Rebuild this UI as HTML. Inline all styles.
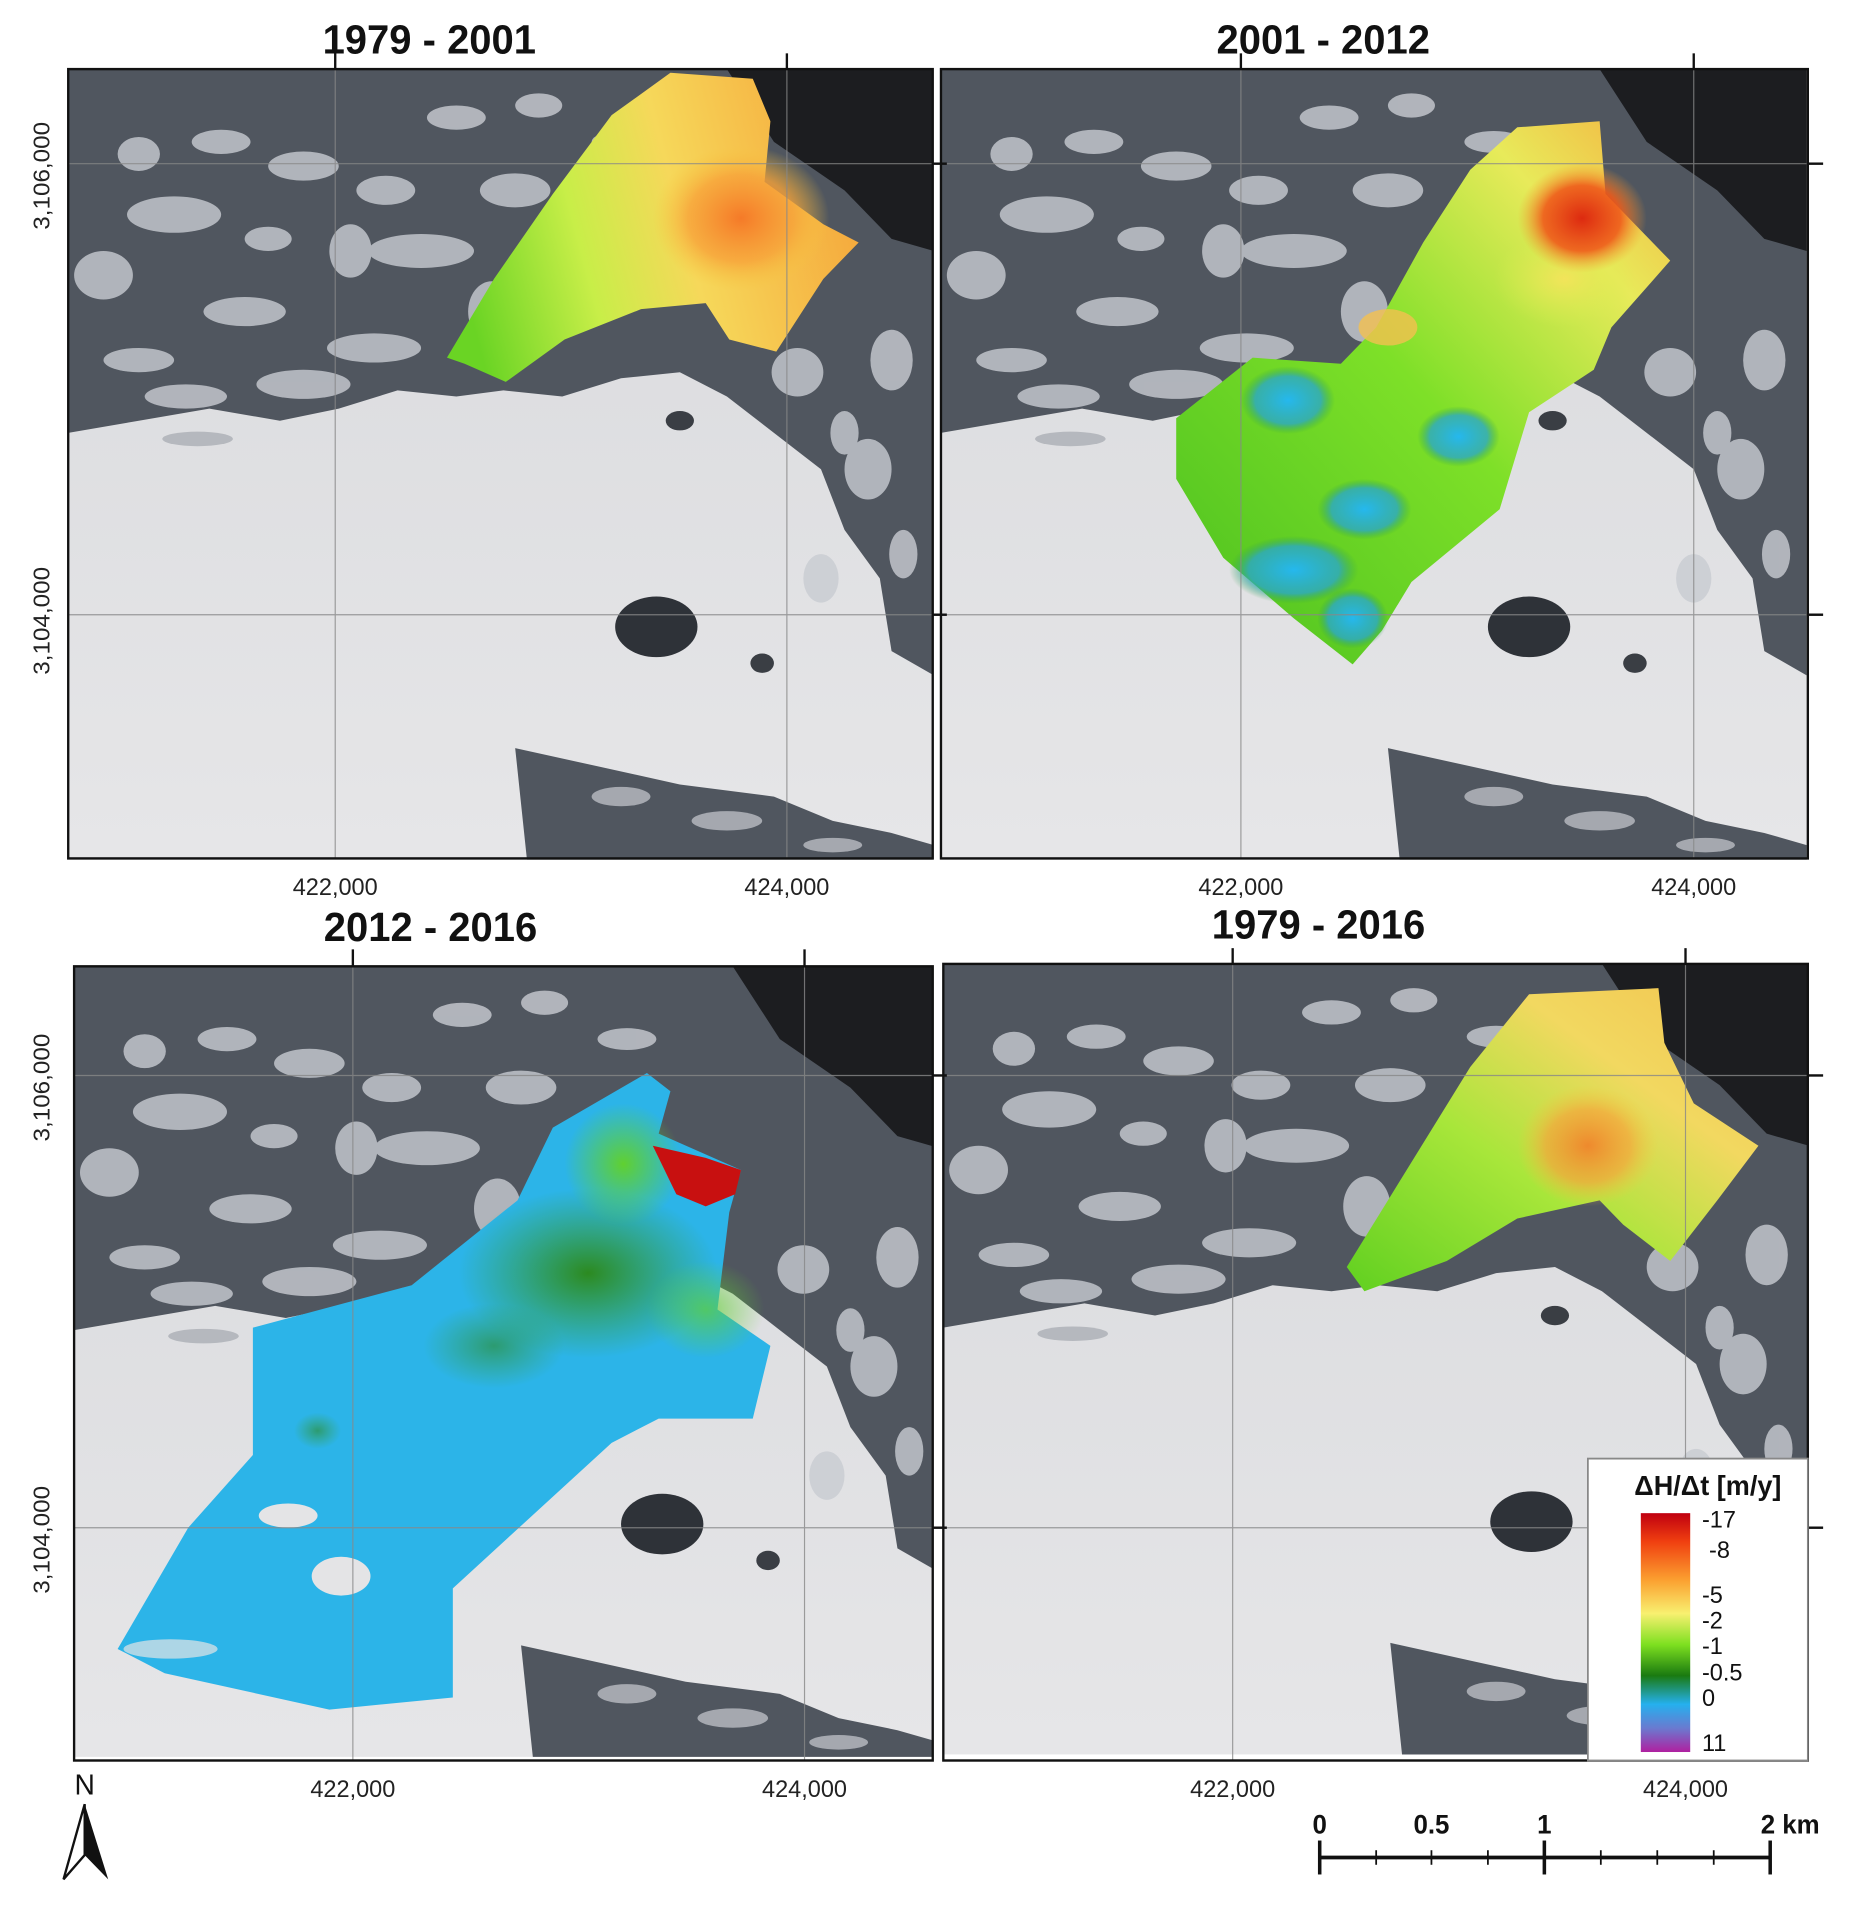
<!DOCTYPE html>
<html><head><meta charset="utf-8"><style>
html,body{margin:0;padding:0;background:#fff;}
svg{display:block;}
text{font-family:"Liberation Sans",sans-serif;}
</style></head><body>
<svg width="1849" height="1906" viewBox="0 0 1572 1572" preserveAspectRatio="none" xmlns="http://www.w3.org/2000/svg">
<defs>
<linearGradient id="snow" x1="0" y1="0" x2="0" y2="1">
<stop offset="0" stop-color="#d8d9dc"/><stop offset="1" stop-color="#e6e6e8"/>
</linearGradient>
<radialGradient id="orangeBlob"><stop offset="0" stop-color="#f57a28"/><stop offset="0.6" stop-color="#f7a33a" stop-opacity="0.8"/><stop offset="1" stop-color="#f7c840" stop-opacity="0"/></radialGradient>
<radialGradient id="redBlob"><stop offset="0" stop-color="#dd2a10"/><stop offset="0.6" stop-color="#ef5a1a" stop-opacity="0.9"/><stop offset="1" stop-color="#f5a030" stop-opacity="0"/></radialGradient>
<radialGradient id="blueBlob"><stop offset="0" stop-color="#25b8ee"/><stop offset="0.7" stop-color="#2aa7c8" stop-opacity="0.8"/><stop offset="1" stop-color="#30a040" stop-opacity="0"/></radialGradient>
<radialGradient id="yelBlob"><stop offset="0" stop-color="#f2e45a"/><stop offset="1" stop-color="#d8ee50" stop-opacity="0"/></radialGradient>
<radialGradient id="dgBlob"><stop offset="0" stop-color="#2c8a20"/><stop offset="1" stop-color="#3aa02a" stop-opacity="0"/></radialGradient>
<radialGradient id="lgBlob"><stop offset="0" stop-color="#60d030"/><stop offset="1" stop-color="#60d030" stop-opacity="0"/></radialGradient>
<linearGradient id="g1" x1="0" y1="0.5" x2="1" y2="0.3">
<stop offset="0" stop-color="#6ad424"/><stop offset="0.3" stop-color="#c8ee48"/><stop offset="0.55" stop-color="#f6d85a"/><stop offset="1" stop-color="#f5a53a"/>
</linearGradient>
<linearGradient id="g2" x1="0" y1="1" x2="1" y2="0">
<stop offset="0" stop-color="#4ac020"/><stop offset="0.5" stop-color="#7ee028"/><stop offset="0.8" stop-color="#e8ea5a"/><stop offset="1" stop-color="#f5b040"/>
</linearGradient>
<linearGradient id="g4" x1="0" y1="1" x2="1" y2="0">
<stop offset="0" stop-color="#60d020"/><stop offset="0.4" stop-color="#a8e63a"/><stop offset="0.7" stop-color="#f2d860"/><stop offset="1" stop-color="#f3c450"/>
</linearGradient>
<linearGradient id="cbar" x1="0" y1="0" x2="0" y2="1">
<stop offset="0" stop-color="#c00010"/><stop offset="0.12" stop-color="#f04010"/><stop offset="0.28" stop-color="#fba030"/><stop offset="0.42" stop-color="#f8f070"/><stop offset="0.55" stop-color="#7ee020"/><stop offset="0.68" stop-color="#1a7a10"/><stop offset="0.8" stop-color="#25b0ee"/><stop offset="0.9" stop-color="#6a7ad0"/><stop offset="1" stop-color="#b020a0"/>
</linearGradient>
<g id="bg">
<rect x="0" y="0" width="736" height="652" fill="url(#snow)"/>
<path d="M0 0 H736 V500 L700 480 L690 420 L660 380 L640 330 L600 300 L560 270 L520 250 L470 255 L420 270 L370 265 L330 270 L280 265 L230 280 L180 290 L120 280 L60 290 L0 300 Z" fill="#50565f"/>
<path d="M560 0 H736 V150 L700 140 L660 100 L600 60 Z" fill="#1c1d20"/>
<g fill="#c9ccd2" opacity="0.8">
<ellipse cx="90" cy="120" rx="40" ry="15"/><ellipse cx="200" cy="80" rx="30" ry="12"/><ellipse cx="300" cy="150" rx="45" ry="14"/>
<ellipse cx="150" cy="200" rx="35" ry="12"/><ellipse cx="260" cy="230" rx="40" ry="12"/><ellipse cx="380" cy="100" rx="30" ry="14"/>
<ellipse cx="420" cy="200" rx="35" ry="12"/><ellipse cx="60" cy="240" rx="30" ry="10"/><ellipse cx="330" cy="40" rx="25" ry="10"/>
<ellipse cx="470" cy="60" rx="25" ry="9"/><ellipse cx="620" cy="250" rx="22" ry="20"/><ellipse cx="680" cy="330" rx="20" ry="25"/>
<ellipse cx="510" cy="170" rx="30" ry="10"/><ellipse cx="640" cy="420" rx="15" ry="20"/>
<ellipse cx="30" cy="170" rx="25" ry="20"/><ellipse cx="130" cy="60" rx="25" ry="10"/><ellipse cx="240" cy="150" rx="18" ry="22"/>
<ellipse cx="360" cy="200" rx="20" ry="25"/><ellipse cx="200" cy="260" rx="40" ry="12"/><ellipse cx="100" cy="270" rx="35" ry="10"/>
<ellipse cx="400" cy="30" rx="20" ry="10"/><ellipse cx="270" cy="100" rx="25" ry="12"/><ellipse cx="170" cy="140" rx="20" ry="10"/>
<ellipse cx="450" cy="130" rx="18" ry="15"/><ellipse cx="60" cy="70" rx="18" ry="14"/><ellipse cx="700" cy="240" rx="18" ry="25"/>
<ellipse cx="660" cy="300" rx="12" ry="18"/><ellipse cx="710" cy="400" rx="12" ry="20"/>
</g>
<path d="M380 560 L450 575 L520 590 L600 600 L650 620 L700 630 L736 640 V652 H390 Z" fill="#50565f"/>
<g fill="#c9ccd2" opacity="0.7"><ellipse cx="470" cy="600" rx="25" ry="8"/><ellipse cx="560" cy="620" rx="30" ry="8"/><ellipse cx="650" cy="640" rx="25" ry="6"/></g>
<ellipse cx="500" cy="460" rx="35" ry="25" fill="#2e3238"/>
<ellipse cx="590" cy="490" rx="10" ry="8" fill="#3a3e44"/>
<ellipse cx="520" cy="290" rx="12" ry="8" fill="#3a3e44"/>
<ellipse cx="110" cy="305" rx="30" ry="6" fill="#9a9ea6" opacity="0.6"/>
</g>
</defs>

<use href="#bg" x="58" y="57"/>
<use href="#bg" x="800" y="57"/>
<use href="#bg" x="63" y="797"/>
<use href="#bg" x="802" y="795"/>

<!-- TL overlay -->
<path d="M380 295 L420 230 L470 160 L520 95 L570 60 L640 65 L655 100 L650 150 L700 185 L730 200 L700 230 L660 290 L620 280 L600 250 L545 255 L480 280 L430 315 L395 300 Z" fill="url(#g1)"/>
<ellipse cx="630" cy="180" rx="75" ry="60" fill="url(#orangeBlob)"/>
<!-- TR overlay -->
<path d="M1000 345 L1065 295 L1140 300 L1170 270 L1210 200 L1250 140 L1290 105 L1360 100 L1365 160 L1395 190 L1420 215 L1370 270 L1355 305 L1300 340 L1275 420 L1200 480 L1175 520 L1150 548 L1100 510 L1040 460 L1000 395 Z" fill="url(#g2)"/>
<ellipse cx="1330" cy="230" rx="60" ry="40" fill="url(#yelBlob)"/>
<ellipse cx="1345" cy="180" rx="55" ry="45" fill="url(#redBlob)"/>
<ellipse cx="1095" cy="330" rx="40" ry="28" fill="url(#blueBlob)"/>
<ellipse cx="1100" cy="470" rx="55" ry="28" fill="url(#blueBlob)"/>
<ellipse cx="1240" cy="360" rx="35" ry="25" fill="url(#blueBlob)"/>
<ellipse cx="1160" cy="420" rx="40" ry="25" fill="url(#blueBlob)"/>
<ellipse cx="1150" cy="510" rx="30" ry="25" fill="url(#blueBlob)"/>
<ellipse cx="1180" cy="270" rx="25" ry="15" fill="#f4c050" opacity="0.8"/>
<!-- BL overlay -->
<path d="M215 1095 L350 1060 L440 990 L470 930 L550 885 L570 900 L560 935 L630 965 L620 1000 L610 1080 L655 1110 L640 1170 L560 1170 L520 1190 L385 1310 L385 1400 L280 1410 L140 1380 L100 1360 L130 1310 L160 1260 L215 1200 Z" fill="#2cb4e8"/>
<ellipse cx="500" cy="1050" rx="110" ry="70" fill="url(#dgBlob)"/>
<ellipse cx="530" cy="960" rx="50" ry="50" fill="url(#lgBlob)"/>
<ellipse cx="600" cy="1080" rx="50" ry="40" fill="url(#lgBlob)" opacity="0.7"/>
<ellipse cx="420" cy="1110" rx="60" ry="35" fill="url(#dgBlob)" opacity="0.6"/>
<ellipse cx="270" cy="1180" rx="20" ry="15" fill="url(#dgBlob)" opacity="0.6"/>
<path d="M555 945 L600 955 L630 965 L625 985 L600 995 L575 985 Z" fill="#c81010"/>
<ellipse cx="245" cy="1250" rx="25" ry="10" fill="#e4e4e6"/>
<ellipse cx="290" cy="1300" rx="25" ry="16" fill="#e4e4e6"/>
<ellipse cx="145" cy="1360" rx="40" ry="8" fill="#e4e4e6" opacity="0.7"/>
<!-- BR overlay -->
<path d="M1145 1045 L1180 990 L1250 880 L1300 820 L1410 815 L1415 860 L1440 910 L1495 945 L1460 990 L1420 1040 L1380 1010 L1360 990 L1290 1005 L1230 1040 L1160 1065 Z" fill="url(#g4)"/>
<ellipse cx="1350" cy="945" rx="60" ry="50" fill="url(#orangeBlob)" opacity="0.85"/>

<g stroke="#888" stroke-width="1" opacity="0.8">
<line x1="285" y1="57" x2="285" y2="708"/><line x1="669" y1="57" x2="669" y2="708"/>
<line x1="58" y1="135" x2="793" y2="135"/><line x1="58" y1="507" x2="793" y2="507"/>
<line x1="1055" y1="57" x2="1055" y2="708"/><line x1="1440" y1="57" x2="1440" y2="708"/>
<line x1="800" y1="135" x2="1537" y2="135"/><line x1="800" y1="507" x2="1537" y2="507"/>
<line x1="300" y1="797" x2="300" y2="1452"/><line x1="684" y1="797" x2="684" y2="1452"/>
<line x1="63" y1="887" x2="793" y2="887"/><line x1="63" y1="1260" x2="793" y2="1260"/>
<line x1="1048" y1="795" x2="1048" y2="1452"/><line x1="1433" y1="795" x2="1433" y2="1452"/>
<line x1="802" y1="887" x2="1537" y2="887"/><line x1="802" y1="1260" x2="1537" y2="1260"/>
</g>
<rect x="793" y="40" width="7" height="680" fill="#fff"/>
<rect x="793" y="780" width="9" height="680" fill="#fff"/>
<rect x="1537" y="40" width="35" height="1420" fill="#fff"/>
<g fill="none" stroke="#111" stroke-width="2">
<rect x="58" y="57" width="735" height="651"/><rect x="800" y="57" width="737" height="651"/>
<rect x="63" y="797" width="730" height="655"/><rect x="802" y="795" width="735" height="657"/>
</g>
<g stroke="#111" stroke-width="2">
<line x1="285" y1="44" x2="285" y2="57"/><line x1="669" y1="44" x2="669" y2="57"/>
<line x1="1055" y1="44" x2="1055" y2="57"/><line x1="1440" y1="44" x2="1440" y2="57"/>
<line x1="300" y1="783" x2="300" y2="797"/><line x1="684" y1="783" x2="684" y2="797"/>
<line x1="1048" y1="782" x2="1048" y2="795"/><line x1="1433" y1="782" x2="1433" y2="795"/>
<line x1="793" y1="135" x2="805" y2="135"/><line x1="793" y1="507" x2="805" y2="507"/>
<line x1="1537" y1="135" x2="1550" y2="135"/><line x1="1537" y1="507" x2="1550" y2="507"/>
<line x1="793" y1="887" x2="805" y2="887"/><line x1="793" y1="1260" x2="805" y2="1260"/>
<line x1="1537" y1="887" x2="1550" y2="887"/><line x1="1537" y1="1260" x2="1550" y2="1260"/>
</g>
<g font-size="34" font-weight="bold" text-anchor="middle" fill="#111">
<text x="365" y="44">1979 - 2001</text><text x="1125" y="44">2001 - 2012</text>
<text x="366" y="776">2012 - 2016</text><text x="1121" y="774">1979 - 2016</text>
</g>
<g font-size="20" fill="#222" text-anchor="middle">
<text x="285" y="738">422,000</text><text x="669" y="738">424,000</text>
<text x="1055" y="738">422,000</text><text x="1440" y="738">424,000</text>
<text x="300" y="1482">422,000</text><text x="684" y="1482">424,000</text>
<text x="1048" y="1482">422,000</text><text x="1433" y="1482">424,000</text>
<text transform="translate(42,145) rotate(-90)">3,106,000</text>
<text transform="translate(42,512) rotate(-90)">3,104,000</text>
<text transform="translate(42,897) rotate(-90)">3,106,000</text>
<text transform="translate(42,1270) rotate(-90)">3,104,000</text>
</g>
<rect x="1350" y="1203" width="187" height="249" fill="#fff" stroke="#888" stroke-width="1.5"/>
<text x="1452" y="1233" font-size="23" font-weight="bold" text-anchor="middle" fill="#111">ΔH/Δt [m/y]</text>
<rect x="1395" y="1248" width="42" height="197" fill="url(#cbar)"/>
<g font-size="20" fill="#111">
<text x="1447" y="1260">-17</text><text x="1453" y="1285">-8</text><text x="1447" y="1322">-5</text>
<text x="1447" y="1343">-2</text><text x="1447" y="1364">-1</text><text x="1447" y="1386">-0.5</text>
<text x="1447" y="1407">0</text><text x="1447" y="1444">11</text>
</g>
<text x="72" y="1480" font-size="24" text-anchor="middle" fill="#111">N</text>
<path d="M72 1488 L54 1550 L72 1530 Z" fill="#fff" stroke="#111" stroke-width="2"/>
<path d="M72 1488 L92 1550 L72 1530 Z" fill="#111"/>
<g font-size="22" font-weight="bold" fill="#111" text-anchor="middle">
<text x="1122" y="1512">0</text><text x="1217" y="1512">0.5</text><text x="1313" y="1512">1</text><text x="1522" y="1512">2 km</text>
</g>
<g stroke="#111" stroke-width="3">
<line x1="1122" y1="1532" x2="1505" y2="1532"/>
<line x1="1122" y1="1518" x2="1122" y2="1546"/><line x1="1313" y1="1518" x2="1313" y2="1546"/><line x1="1505" y1="1518" x2="1505" y2="1546"/>
</g>
<g stroke="#111" stroke-width="1.5">
<line x1="1170" y1="1526" x2="1170" y2="1538"/><line x1="1217" y1="1526" x2="1217" y2="1538"/><line x1="1265" y1="1526" x2="1265" y2="1538"/>
<line x1="1361" y1="1526" x2="1361" y2="1538"/><line x1="1409" y1="1526" x2="1409" y2="1538"/><line x1="1457" y1="1526" x2="1457" y2="1538"/>
</g>
</svg>
</body></html>
